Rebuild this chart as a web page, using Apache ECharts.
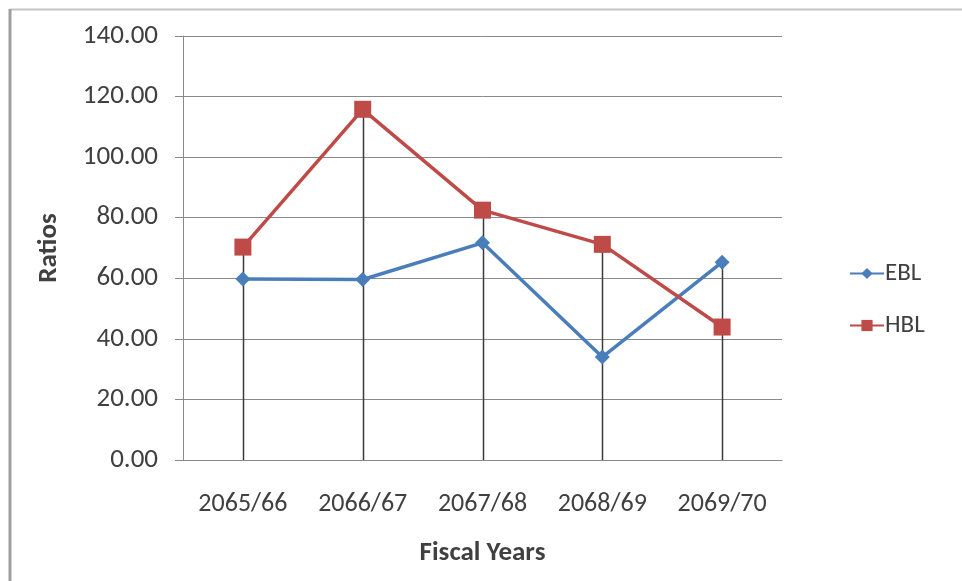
<!DOCTYPE html>
<html>
<head>
<meta charset="utf-8">
<script src="https://cdn.jsdelivr.net/npm/echarts@6/dist/echarts.min.js"></script>
<style>
  html, body { margin: 0; padding: 0; background: #ffffff; }
  #chart { width: 962px; height: 581px; }
</style>
</head>
<body>
<div id="chart"></div>
<script>
// Fiscal years on the category axis
const fiscalYears = ['2065/66', '2066/67', '2067/68', '2068/69', '2069/70'];
// Ratio values per bank
const eblValues = [59.8, 59.6, 71.7, 34.0, 65.3];
const hblValues = [70.3, 115.8, 82.5, 71.2, 43.9];
// Value axis range
const yMin = 0;
const yMax = 140;
const yStep = 20;

// Drop line height at each year: the higher of the two series
const dropTops = fiscalYears.map((_, i) => Math.max(eblValues[i], hblValues[i]));

const FONT = 'Carlito, Lato, sans-serif';
const TEXT = '#404040';

const chart = echarts.init(document.getElementById('chart'), null, { renderer: 'canvas' });

chart.setOption({
  animation: false,
  backgroundColor: '#ffffff',
  textStyle: { fontFamily: FONT },
  grid: { left: 183, right: 180, top: 36, bottom: 121, containLabel: false },
  legend: {
    orient: 'vertical',
    left: 844,
    top: 256,
    itemWidth: 34,
    itemHeight: 14,
    itemGap: 27,
    textStyle: { fontFamily: FONT, fontSize: 25, color: TEXT, padding: [0, 0, 0, -4] },
    data: ['EBL', 'HBL']
  },
  xAxis: {
    type: 'category',
    data: fiscalYears,
    boundaryGap: true,
    name: 'Fiscal Years',
    nameLocation: 'middle',
    nameGap: 80,
    nameTextStyle: { fontFamily: FONT, fontSize: 27, fontWeight: 'bold', color: TEXT },
    axisLine: { show: true, lineStyle: { color: '#8a8a8a', width: 1 } },
    axisTick: { show: false },
    axisLabel: { fontFamily: FONT, fontSize: 26, color: TEXT, margin: 31, interval: 0, hideOverlap: false },
    splitLine: { show: false }
  },
  yAxis: {
    type: 'value',
    min: yMin,
    max: yMax,
    interval: yStep,
    name: 'Ratios',
    nameLocation: 'middle',
    nameGap: 120,
    nameTextStyle: { fontFamily: FONT, fontSize: 27, fontWeight: 'bold', color: TEXT },
    axisLine: { show: true, lineStyle: { color: '#8a8a8a', width: 1 } },
    axisTick: { show: true, inside: false, length: 8, lineStyle: { color: '#8a8a8a' } },
    axisLabel: {
      fontFamily: FONT, fontSize: 27, color: TEXT, margin: 25,
      formatter: v => v.toFixed(2)
    },
    splitLine: { show: true, lineStyle: { color: '#8a8a8a', width: 1 } }
  },
  series: [
    {
      name: 'drops',
      type: 'custom',
      silent: true,
      z: 1,
      data: dropTops.map((v, i) => [i, v]),
      renderItem: function (params, api) {
        const top = api.coord([api.value(0), api.value(1)]);
        const bottom = api.coord([api.value(0), yMin]);
        return {
          type: 'line',
          shape: { x1: Math.round(top[0]) + 0.5, y1: top[1], x2: Math.round(bottom[0]) + 0.5, y2: bottom[1] },
          style: { stroke: '#3a3a3a', lineWidth: 1.5 }
        };
      }
    },
    {
      name: 'EBL',
      type: 'line',
      z: 3,
      data: eblValues,
      symbol: 'diamond',
      symbolSize: 15,
      lineStyle: { color: '#4a7ebb', width: 3.5 },
      itemStyle: { color: '#4a7ebb' }
    },
    {
      name: 'HBL',
      type: 'line',
      z: 4,
      data: hblValues,
      symbol: 'rect',
      symbolSize: 17,
      lineStyle: { color: '#be4b48', width: 3.5 },
      itemStyle: { color: '#be4b48' }
    }
  ],
  graphic: [
    {
      type: 'line',
      shape: { x1: 10, y1: 9.5, x2: 962, y2: 9.5 },
      style: { stroke: '#c4c4c4', lineWidth: 2 }
    },
    {
      type: 'line',
      shape: { x1: 10, y1: 9, x2: 10, y2: 581 },
      style: { stroke: '#a0a0a0', lineWidth: 3 }
    }
  ]
});
</script>
</body>
</html>
